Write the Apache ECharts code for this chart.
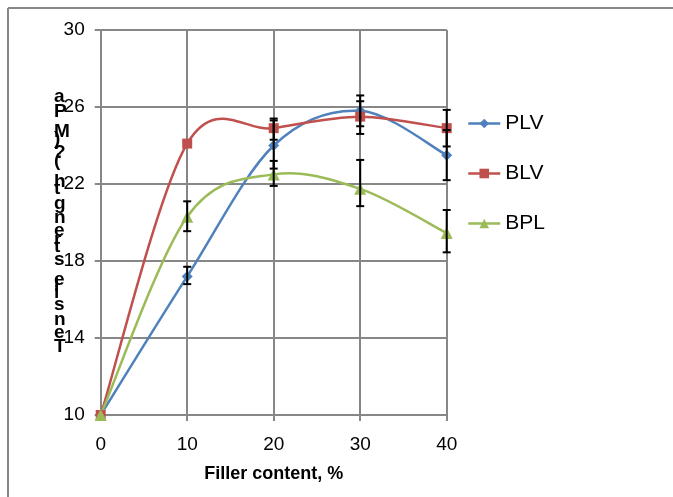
<!DOCTYPE html>
<html>
<head>
<meta charset="utf-8">
<script src="https://cdn.jsdelivr.net/npm/echarts@6/dist/echarts.min.js"></script>
<style>html,body{margin:0;padding:0;background:#fff}#c{width:673px;height:497px}</style>
</head>
<body>
<div id="c"></div>
<script>
var fillerContent = [0, 10, 20, 30, 40];
var plv = [10, 17.2, 24.0, 25.8, 23.5];
var blv = [10, 24.1, 24.9, 25.5, 24.9];
var bpl = [10, 20.3, 22.5, 21.75, 19.45];
var plvErrPlus  = [0, 0.5, 1.4, 0.8, 1.3];
var plvErrMinus = [0, 0.4, 1.2, 0.8, 1.3];
var blvErrPlus  = [0, 0, 0.4, 0.8, 0.95];
var blvErrMinus = [0, 0, 0.6, 0.9, 0.95];
var bplErrPlus  = [0, 0.8, 0.7, 1.5, 1.2];
var bplErrMinus = [0, 0.75, 0.6, 0.9, 1.0];
var seriesNames = ['PLV', 'BLV', 'BPL'];
var yTitle = 'Tensile strength (?)MPa';
var xTitle = 'Filler content, %';

var colors = ['#4F81BD', '#C0504D', '#9BBB59'];
var symbols = ['diamond', 'rect', 'triangle'];
var symbolSizes = [11, 10, 12];
var gridColor = '#878787';
var FONT = '"Liberation Sans", Arial, sans-serif';

function pairs(vals) { return fillerContent.map(function (x, i) { return [x, vals[i]]; }); }
function errData(vals, plus, minus) {
  var out = [];
  fillerContent.forEach(function (x, i) {
    if (plus[i] > 0 || minus[i] > 0) out.push([x, vals[i] - minus[i], vals[i] + plus[i]]);
  });
  return out;
}

var chart = echarts.init(document.getElementById('c'), null, {renderer: 'canvas'});

// stacked upright characters of the vertical axis title, laid out by advance width
var ctx = document.createElement('canvas').getContext('2d');
var titleFont = 'bold 19px ' + FONT;
ctx.font = titleFont;
var chars = yTitle.split('');
var adv = chars.map(function (ch) { return ctx.measureText(ch).width; });
var totalAdv = adv.slice(0, adv.length - 1).reduce(function (a, b) { return a + b; }, 0);
var yBottom = 356, yTopBase = 106;
var scale = (yBottom - yTopBase) / totalAdv;
var titleChildren = [];
var cum = 0;
chars.forEach(function (ch, i) {
  titleChildren.push({
    type: 'text',
    x: 54,
    y: yBottom - cum * scale,
    style: {text: ch, font: titleFont, fill: '#000', textVerticalAlign: 'bottom', textAlign: 'left'}
  });
  cum += adv[i];
});

var allVals = [plv, blv, bpl];

// marker-only line series (legend + symbols)
var lineSeries = allVals.map(function (vals, k) {
  return {
    name: seriesNames[k],
    type: 'line',
    data: pairs(vals),
    symbol: symbols[k],
    symbolSize: symbolSizes[k],
    itemStyle: {color: colors[k]},
    lineStyle: {color: colors[k], width: 2.5, opacity: 0},
    z: 4
  };
});

// smoothed curve segments (Catmull-Rom style, like the spreadsheet's smoothed line)
var curveSeries = allVals.map(function (vals, k) {
  return {
    type: 'custom',
    data: pairs(vals),
    silent: true,
    z: 3,
    renderItem: function (params, api) {
      var i = params.dataIndex;
      if (i === 0) return null;
      var P = function (j) {
        j = Math.max(0, Math.min(vals.length - 1, j));
        return api.coord([fillerContent[j], vals[j]]);
      };
      var p0 = P(i - 2), p1 = P(i - 1), p2 = P(i), p3 = P(i + 1);
      if (i - 2 < 0) p0 = p1;
      if (i + 1 > vals.length - 1) p3 = p2;
      var t = 1 / 6;
      return {
        type: 'bezierCurve',
        shape: {
          x1: p1[0], y1: p1[1],
          cpx1: p1[0] + (p2[0] - p0[0]) * t, cpy1: p1[1] + (p2[1] - p0[1]) * t,
          cpx2: p2[0] - (p3[0] - p1[0]) * t, cpy2: p2[1] - (p3[1] - p1[1]) * t,
          x2: p2[0], y2: p2[1]
        },
        style: {stroke: colors[k], lineWidth: 2.5, fill: null}
      };
    }
  };
});

var errSets = [
  errData(plv, plvErrPlus, plvErrMinus),
  errData(blv, blvErrPlus, blvErrMinus),
  errData(bpl, bplErrPlus, bplErrMinus)
];
var errSeries = errSets.map(function (d) {
  return {
    type: 'custom',
    data: d,
    silent: true,
    z: 5,
    renderItem: function (params, api) {
      var lo = api.coord([api.value(0), api.value(1)]);
      var hi = api.coord([api.value(0), api.value(2)]);
      var w = 4;
      var st = {stroke: '#000', lineWidth: 2};
      return {
        type: 'group',
        children: [
          {type: 'line', shape: {x1: lo[0], y1: lo[1], x2: hi[0], y2: hi[1]}, style: st},
          {type: 'line', shape: {x1: lo[0] - w, y1: lo[1], x2: lo[0] + w, y2: lo[1]}, style: st},
          {type: 'line', shape: {x1: hi[0] - w, y1: hi[1], x2: hi[0] + w, y2: hi[1]}, style: st}
        ]
      };
    }
  };
});

chart.setOption({
  animation: false,
  backgroundColor: '#fff',
  textStyle: {fontFamily: FONT},
  grid: {left: 100.7, right: 226.3, top: 30, bottom: 82, containLabel: false},
  legend: {
    data: seriesNames,
    orient: 'vertical',
    left: 462,
    top: 108,
    itemWidth: 32,
    itemHeight: 12,
    itemGap: 29,
    lineStyle: {opacity: 1, width: 2.5},
    textStyle: {fontSize: 21, color: '#000', fontFamily: FONT}
  },
  xAxis: {
    type: 'value',
    min: 0, max: 40, interval: 10,
    name: xTitle,
    nameLocation: 'middle',
    nameGap: 50,
    nameTextStyle: {fontSize: 18, fontWeight: 'bold', color: '#000', verticalAlign: 'top', fontFamily: FONT},
    axisLine: {show: true, lineStyle: {color: gridColor, width: 2}},
    axisTick: {show: true, length: 6, lineStyle: {color: gridColor, width: 2}},
    axisLabel: {fontSize: 19, color: '#000', margin: 20},
    splitLine: {show: true, lineStyle: {color: gridColor, width: 2}}
  },
  yAxis: {
    type: 'value',
    min: 10, max: 30, interval: 4,
    axisLine: {show: true, lineStyle: {color: gridColor, width: 2}},
    axisTick: {show: true, length: 6, lineStyle: {color: gridColor, width: 2}},
    axisLabel: {fontSize: 19, color: '#000', margin: 16},
    splitLine: {show: true, lineStyle: {color: gridColor, width: 2}}
  },
  graphic: [
    {type: 'line', shape: {x1: 8, y1: 8, x2: 673, y2: 8}, style: {stroke: gridColor, lineWidth: 2}},
    {type: 'line', shape: {x1: 8, y1: 8, x2: 8, y2: 497}, style: {stroke: gridColor, lineWidth: 2}},
    {type: 'group', children: titleChildren}
  ],
  series: lineSeries.concat(curveSeries, errSeries)
});
</script>
</body>
</html>
